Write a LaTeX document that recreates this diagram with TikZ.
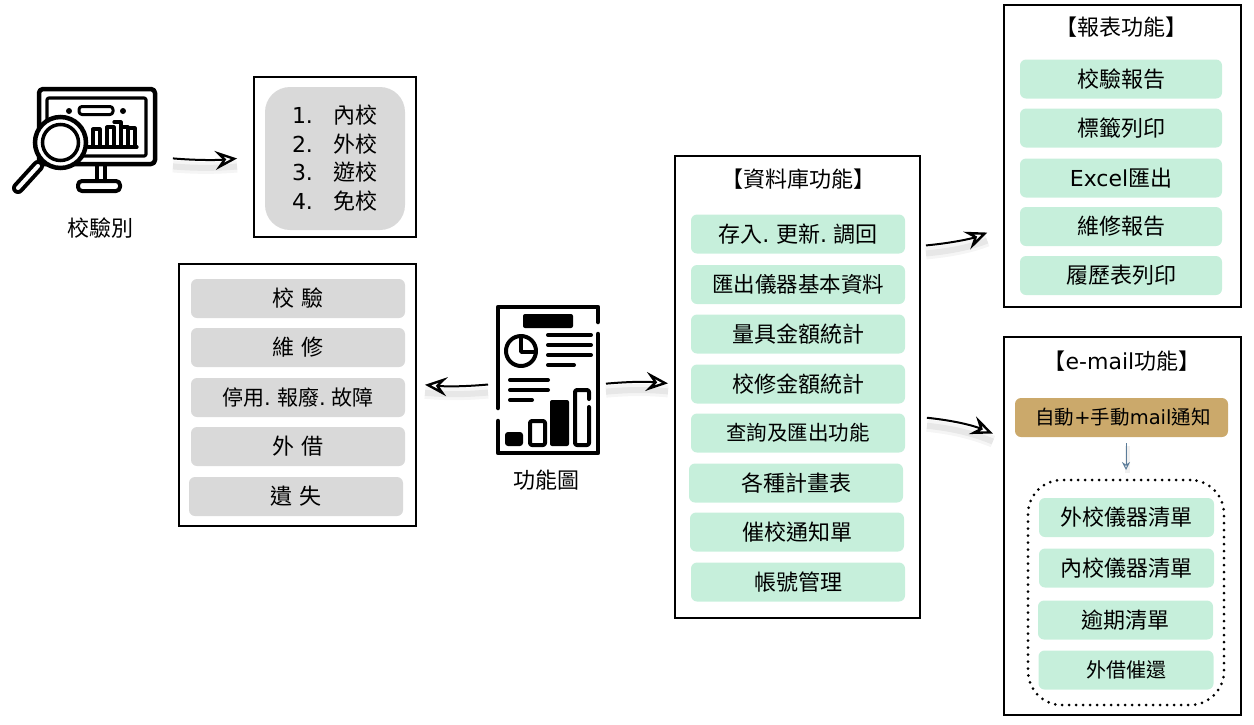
\documentclass[tikz,border=0pt]{standalone}
\usepackage{fontspec}
\setmainfont{Noto Sans CJK TC}
\newfontfamily\latinfont{DejaVu Sans}
\newcommand{\lat}[1]{{\latinfont #1}}
\usepackage{tikz}
\usetikzlibrary{arrows.meta,calc,positioning}
\definecolor{itemgray}{HTML}{D9D9D9}
\definecolor{itemgreen}{HTML}{C6EFDB}
\definecolor{itemgold}{HTML}{CBA96B}
\definecolor{hintblue}{HTML}{5B7C99}

\begin{document}
\begin{tikzpicture}[x=1pt, y=-1pt, every node/.style={inner sep=0pt, outer sep=0pt},
  panel/.style={draw, line width=2pt, anchor=north west},
  item/.style={minimum height=39pt, rounded corners=6pt, font=\fontsize{22}{24}\selectfont},
  grayitem/.style={item, fill=itemgray, minimum width=214pt},
  greenitem/.style={item, fill=itemgreen, minimum width=214pt},
  reportitem/.style={item, fill=itemgreen, minimum width=202pt},
  mailitem/.style={item, fill=itemgreen, minimum width=175pt},
  paneltitle/.style={font=\fontsize{22}{24}\selectfont},
  caption/.style={font=\fontsize{22}{24}\selectfont},
  sketcharrow/.style={line width=2pt, -{Stealth[open, length=22pt, width=19pt, inset=8pt, line width=2.4pt]},
    preaction={draw=black, opacity=0.04, line width=12pt, arrows=-, transform canvas={yshift=-8pt}},
    preaction={draw=black, opacity=0.06, line width=6pt, arrows=-, transform canvas={yshift=-8pt}}},
  icon/.style={line width=3.5pt, line cap=round, line join=round}]

\useasboundingbox (0,0) rectangle (1254,724);

% Pannello tipi di taratura
\node[panel, minimum width=162pt, minimum height=160pt] (calbox) at (254,77) {};
\node[fill=itemgray, rounded corners=25pt, minimum width=140pt, minimum height=143pt] (callist) at (335,158.5) {};
\node[font=\fontsize{22}{28.6}\selectfont, align=left] (caltext) at (335,158) {%
  \lat{1.}\hspace{21pt}內校\\ \lat{2.}\hspace{21pt}外校\\ \lat{3.}\hspace{21pt}遊校\\ \lat{4.}\hspace{21pt}免校};

% Pannello stato strumenti
\node[panel, minimum width=237pt, minimum height=262pt] (statebox) at (179,264) {};
\node[grayitem] (stateA) at (298,298.5) {校\hspace{7pt}驗};
\node[grayitem] (stateB) at (298,347.5) {維\hspace{7pt}修};
\node[grayitem] (stateC) at (298,397.5) {\fontsize{21}{24}\selectfont 停用\lat{.} 報廢\lat{.} 故障};
\node[grayitem] (stateD) at (298,446.5) {外\hspace{7pt}借};
\node[grayitem] (stateE) at (296,496.5) {遺\hspace{7pt}失};

% Pannello database
\node[panel, minimum width=245pt, minimum height=462pt] (dbbox) at (675,156) {};
\node[paneltitle] (dbtitle) at (798,179) {【資料庫功能】};
\node[greenitem] (dbA) at (798,234) {存入\lat{.} 更新\lat{.} 調回};
\node[greenitem] (dbB) at (798,284.5) {\fontsize{21.5}{24}\selectfont 匯出儀器基本資料};
\node[greenitem] (dbC) at (798,334) {量具金額統計};
\node[greenitem] (dbD) at (798,384) {校修金額統計};
\node[greenitem] (dbE) at (798,433) {\fontsize{20.5}{24}\selectfont 查詢及匯出功能};
\node[greenitem] (dbF) at (796,483) {各種計畫表};
\node[greenitem] (dbG) at (797,532) {催校通知單};
\node[greenitem] (dbH) at (798,582) {帳號管理};

% Pannello report
\node[panel, minimum width=237pt, minimum height=302pt] (reportbox) at (1004,5) {};
\node[paneltitle] (reporttitle) at (1121,27) {【報表功能】};
\node[reportitem] (reportA) at (1121,79) {校驗報告};
\node[reportitem] (reportB) at (1121,128) {標籤列印};
\node[reportitem] (reportC) at (1121,178) {\lat{Excel}匯出};
\node[reportitem] (reportD) at (1121,226.5) {維修報告};
\node[reportitem] (reportE) at (1121,275.5) {履歷表列印};

% Pannello e-mail
\node[panel, minimum width=237pt, minimum height=378pt] (mailbox) at (1004,337) {};
\node[paneltitle] (mailtitle) at (1122,361) {【\lat{e-mail}功能】};
\node[item, fill=itemgold, minimum width=213pt] (mailauto) at (1121.5,417.5) {\hspace{3pt}\fontsize{19.5}{24}\selectfont 自動\lat{+}手動\lat{mail}通知};
\node[draw, line width=3pt, dash pattern=on 0pt off 7pt, line cap=round, rounded corners=34pt,
  minimum width=196pt, minimum height=225pt] (mailgroup) at (1126,592.5) {};
\node[mailitem] (mailA) at (1126.5,517.5) {外校儀器清單};
\node[mailitem] (mailB) at (1126.5,568) {內校儀器清單};
\node[mailitem] (mailC) at (1125.5,620) {逾期清單};
\node[mailitem] (mailD) at (1126,670) {\fontsize{20}{24}\selectfont 外借催還};

% Icona monitor e lente
\node[minimum width=146pt, minimum height=106pt] (monitor) at (84,138) {};
\node[caption] (monitorlabel) at (100,228) {校驗別};
\draw[icon, line width=4.5pt, rounded corners=4pt] (39,89) rectangle (155,164);
\draw[icon, line width=3.2pt, rounded corners=2pt] (47,98) rectangle (146,156);
\draw[icon, line width=4pt] (97,165) -- (97,181) (105,165) -- (105,181);
\draw[icon, line width=4pt, rounded corners=4pt] (78,181) rectangle (120,191);
\draw[icon, rounded corners=3pt, line width=3pt] (79,106.5) rectangle (113,114.5);
\fill (69,111) circle (3) (123,111) circle (3);
\draw[icon, line width=3.2pt] (88,147) -- (137,147) (93,147) -- (93,129) -- (100,129) -- (100,147)
  (107,147) -- (107,127) -- (114,127) -- (114,147) (114,122) -- (121,122) -- (121,147)
  (121,127) -- (128,127) -- (128,147) (128,128) -- (135,128) -- (135,147);
\draw[line width=12pt, line cap=round] (18,188) -- (38,166);
\draw[white, line width=4pt, line cap=round] (18,188) -- (38,166);
\draw[line width=4.5pt, fill=white] (60.5,142.5) circle (25.5);
\draw[line width=3.5pt] (60.5,142.5) circle (18);

% Icona documento
\node[minimum width=108pt, minimum height=154pt] (report) at (548,380) {};
\node[caption] (reportlabel) at (546,480) {功能圖};
\draw[icon, line width=4.5pt] (598,322) -- (598,307) -- (498,307) -- (498,408) (498,421) -- (498,453) -- (598,453) -- (598,334);
\fill[rounded corners=2pt] (523,314) rectangle (573,328);
\draw[icon, line width=4pt] (521,351) circle (15);
\draw[icon, line width=3.5pt] (521,336) -- (521,352) -- (536,352);
\draw[icon, line width=4pt] (548,335) -- (591,335) (548,345) -- (591,345) (548,355) -- (591,355) (548,365) -- (574,365);
\draw[icon, line width=4pt] (510,380) -- (548,380) (510,390) -- (548,390) (510,400) -- (532,400);
\fill[rounded corners=3pt] (505,432) rectangle (523,446);
\draw[icon, line width=4pt, rounded corners=2pt] (530,421) rectangle (545,445);
\fill[rounded corners=2pt] (550,400) rectangle (569,446);
\draw[icon, line width=4pt, rounded corners=2pt] (589,399) -- (589,390) -- (575,390) -- (575,445) -- (589,445) -- (589,407);

% Frecce
\draw[sketcharrow, shorten <=16pt, shorten >=17pt] (monitor.east |- calbox.west) to[bend right=5] (calbox.west);
\draw[sketcharrow, shorten <=6pt, shorten >=9pt] (report.west |- 0,384) to[bend left=5] (statebox.east |- 0,384);
\draw[sketcharrow, shorten <=4pt, shorten >=7pt] (report.east |- dbD.west) to[bend left=5] (dbbox.west |- dbD.west);
\draw[sketcharrow, shorten <=6pt, shorten >=18pt] (dbbox.east |- 0,246) to[bend right=8] (reportbox.west |- 0,226);
\draw[sketcharrow, shorten <=7pt, shorten >=12pt] (dbbox.east |- 0,417) to[bend left=8] (mailbox.west |- 0,438);
\draw[hintblue, line width=1pt, -{Stealth[open, length=8pt, width=8pt]}, shorten <=6pt, shorten >=10pt,
  preaction={draw=black, opacity=0.06, line width=5pt, arrows=-, transform canvas={xshift=1pt, yshift=-3pt}}]
  (mailgroup.north |- mailauto.south) -- (mailgroup.north);

\end{tikzpicture}
\end{document}
